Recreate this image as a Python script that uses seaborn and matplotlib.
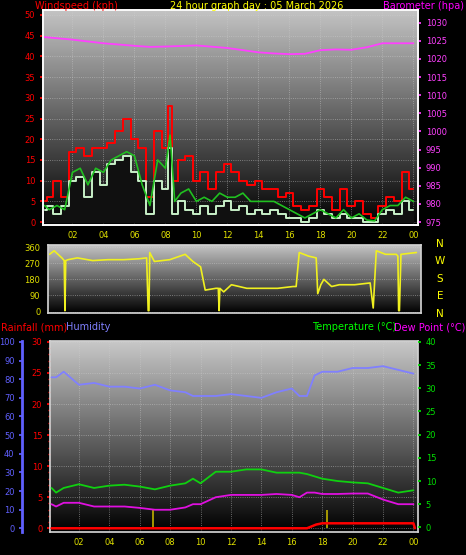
import numpy as np
import pandas as pd
import matplotlib
matplotlib.use("Agg")
import matplotlib.pyplot as plt
import seaborn as sns
from matplotlib.colors import LinearSegmentedColormap

sns.set_theme(style="dark")
plt.rcParams['font.family'] = ['DejaVu Sans']

# ---------------- data ----------------
wind_hours = [0.2,0.5,1.0,1.5,2.0,2.5,3.0,3.5,4.0,4.5,5.0,5.5,6.0,6.5,7.0,7.5,8.0,8.3,8.6,9.0,9.5,10.0,10.5,11.0,11.5,12.0,12.5,13.0,13.5,14.0,14.5,15.0,15.5,16.0,16.5,17.0,17.5,18.0,18.5,19.0,19.5,20.0,20.5,21.0,21.5,22.0,22.5,23.0,23.5,24.0]
wind_gust = [5,6,10,6,17,18,16,18,18,19,22,25,20,18,6,22,18,28,10,15,16,10,12,8,12,14,12,10,9,10,8,8,6,7,4,3,4,8,6,3,8,4,5,2,1,4,6,5,12,8]
wind_avg = [3,4,2,4,10,11,6,12,9,14,15,16,12,10,2,10,8,18,2,5,3,2,4,2,4,5,3,4,2,3,2,3,2,1,1,0,1,3,2,1,2,1,1,0,0,2,3,2,5,3]
wind_smooth = [4,3,4,3,12,13,9,13,12,15,16,17,16,9,4,15,13,21,5,7,8,5,6,5,7,6,6,7,5,5,5,5,4,3,2,1,2,3,2,1,3,1,2,0.5,0.3,3,4,4,6,5]
baro_hours = [0.2,2,4,6,7,8,10,12,14,15,16,17,18,19,20,21,22,23,24]
baro = [1026,1025.3,1024.3,1023.6,1023.3,1023.4,1023.7,1023,1021.8,1021.5,1021.3,1021.4,1022.4,1022.6,1022.5,1023.2,1024.3,1024.3,1024.3]

dir_hours = [0.2,0.5,1.0,1.15,1.2,1.25,1.4,2.0,3.0,4.0,5.0,6.0,6.5,6.6,6.65,6.7,7.0,8.0,9.0,9.5,10.0,10.3,11.0,11.15,11.2,11.25,11.5,12.0,13.0,14.0,15.0,16.0,16.2,16.4,17.0,17.5,17.6,17.8,18.0,18.5,19.0,20.0,21.0,21.2,21.4,22.0,22.7,22.8,22.85,22.9,23.0,24.0]
direction = [320,340,300,285,5,285,290,300,285,290,290,295,300,5,5,330,280,290,320,280,250,120,130,130,5,130,110,150,130,130,130,140,140,330,310,300,100,150,180,140,150,150,160,20,340,320,320,310,5,5,320,330]

th_hours = [0.2,0.5,1,2,3,4,5,6,7,8,9,9.5,10,11,12,13,14,15,16,16.5,17,17.5,18,19,20,21,22,23,24]
humidity = [81,81,84,77,78,76,76,75,77,74,73,71,71,71,72,71,70,73,75,71,71,82,84,84,86,86,87,85,83]
temperature = [8.5,7.5,8.5,9.3,8.5,9,9.2,8.8,8.2,9,9.5,10.5,9.5,12,12,12.5,12.5,11.8,11.8,11.8,11.5,11,10.5,10,9.7,9.5,8.5,7.5,8]
dewpoint = [5,4.5,5.3,5.3,4.5,4.5,4.5,4.2,3.8,3.8,4.3,5,5,6.5,7,7,7,7.2,7,6.5,7.5,7.5,7.2,7.2,7.3,7.3,6,5,5]
rain_hours = [0.2,17.0,17.3,17.6,18.0,24.0,24.1]
rain = [0,0,0.3,0.6,0.8,0.8,0]
rain_events = [6.9,18.3]

hour_ticks = [2,4,6,8,10,12,14,16,18,20,22,24]
hour_labels = ['02','04','06','08','10','12','14','16','18','20','22','00']
XL = (0.1, 24.3)

W, H = 466, 555
fig = plt.figure(figsize=(W/100, H/100), dpi=100, facecolor='black')

def ax_at(x0, y0, x1, y1):
    return fig.add_axes([x0/W, 1-y1/H, (x1-x0)/W, (y1-y0)/H])

def grad(ax, top='#c4c4c4'):
    g = np.linspace(1, 0, 256).reshape(-1, 1)
    cm = LinearSegmentedColormap.from_list('g', ['#000000', top])
    ax.imshow(g, cmap=cm, aspect='auto', extent=[*ax.get_xlim(), *ax.get_ylim()], zorder=0)

def style(ax, yticks, ycolor, xlabels=True):
    ax.set_xlim(*XL)
    ax.set_xticks(hour_ticks)
    ax.set_xticklabels(hour_labels if xlabels else [])
    ax.tick_params(axis='x', colors='#e0e000', labelsize=6, length=0, pad=4)
    ax.tick_params(axis='y', colors=ycolor, labelsize=6, length=2)
    ax.set_yticks(yticks)
    ax.grid(True, color='#d0d0d0', linestyle=':', linewidth=0.6, alpha=0.6)
    for s in ax.spines.values():
        s.set_color('#d0d0d0')
    ax.set_xlabel(''); ax.set_ylabel('')

# ---------- top: wind + barometer ----------
ax1 = ax_at(43, 10, 418, 225)
ax1.set_xlim(*XL); ax1.set_ylim(-0.7, 51.2)
grad(ax1)
sns.lineplot(x=wind_hours, y=wind_gust, ax=ax1, color='#ff0000', lw=1.4, drawstyle='steps-mid', zorder=2)
ax1.fill_between(wind_hours, wind_avg, color='#101010', step='mid', zorder=1.5)
sns.lineplot(x=wind_hours, y=wind_avg, ax=ax1, color='#c8f0c8', lw=1.4, drawstyle='steps-mid', zorder=3)
sns.lineplot(x=wind_hours, y=wind_smooth, ax=ax1, color='#20c020', lw=1.2, zorder=4)
style(ax1, list(range(0, 51, 5)), '#ff0000')
ax1b = ax1.twinx()
ax1b.set_ylim(975 - 0.7*1.142, 975 + 51.2*1.142)
sns.lineplot(x=baro_hours, y=baro, ax=ax1b, color='#ff40ff', lw=1.3)
ax1b.set_yticks(list(range(975, 1031, 5)))
ax1b.tick_params(axis='y', colors='#ff40ff', labelsize=6, length=2)
ax1b.set_ylabel('')
ax1b.grid(False)
ax1.set_xlim(*XL)
fig.text(35/W, 1-6/H, 'Windspeed (kph)', color='#ff0000', fontsize=7, va='center', ha='left')
fig.text(257/W, 1-6/H, '24 hour graph day : 05 March 2026', color='#ffff00', fontsize=7, va='center', ha='center')
fig.text(464/W, 1-6/H, 'Barometer (hpa)', color='#ff00ff', fontsize=7, va='center', ha='right')

# ---------- middle: wind direction ----------
ax2 = ax_at(48, 245, 421, 313)
ax2.set_xlim(*XL); ax2.set_ylim(-8, 372)
grad(ax2)
sns.lineplot(x=dir_hours, y=direction, ax=ax2, color='#f0f020', lw=1.2)
style(ax2, [0, 90, 180, 270, 360], '#e0e000', xlabels=False)
ax2.grid(True, axis='y', color='#d0d0d0', linestyle=':', linewidth=0.6, alpha=0.6)
ax2.grid(False, axis='x')
for lab, yy in zip(['N', 'W', 'S', 'E', 'N'], [244, 261, 279, 296, 314]):
    fig.text(440/W, 1-yy/H, lab, color='#ffff00', fontsize=7.5, ha='center', va='center')

# ---------- bottom: humidity / rain / temperature ----------
fig.text(1/W, 1-327/H, 'Rainfall (mm)', color='#ff0000', fontsize=7, va='center')
fig.text(66/W, 1-327/H, 'Humidity', color='#8080ff', fontsize=7, va='center')
fig.text(312/W, 1-327/H, 'Temperature (°C)', color='#00ff00', fontsize=7, va='center')
fig.text(465/W, 1-327/H, 'Dew Point (°C)', color='#ff00ff', fontsize=7, va='center', ha='right')

ax3 = ax_at(50, 341, 418, 532)
ax3.set_xlim(*XL); ax3.set_ylim(-0.6, 30.15)
grad(ax3, top='#c8c8c8')
for ev in rain_events:
    ax3.vlines(ev, 0, 3, color='#c0b000', lw=1.2, zorder=2)
sns.lineplot(x=rain_hours, y=rain, ax=ax3, color='#ff0000', lw=1.8, zorder=5)
style(ax3, list(range(0, 31, 5)), '#ff0000')
ax3.set_yticks(list(range(0, 31, 1)), minor=True)
ax3.tick_params(axis='y', which='minor', length=1.5, colors='#ff0000')

axh = ax3.twinx()
axh.set_ylim(-2, 100.5)
sns.lineplot(x=th_hours, y=humidity, ax=axh, color='#8080ff', lw=1.3)
axh.set_yticks(list(range(0, 101, 10)))
axh.yaxis.set_ticks_position('left'); axh.yaxis.set_label_position('left')
axh.spines['left'].set_position(('outward', 20))
axh.spines['left'].set_color('#6060ff'); axh.spines['left'].set_linewidth(2)
axh.tick_params(axis='y', colors='#6060ff', labelsize=6, length=2)
axh.set_ylabel(''); axh.grid(False)

axt = ax3.twinx()
axt.set_ylim(-1, 40.2)
sns.lineplot(x=th_hours, y=temperature, ax=axt, color='#10d010', lw=1.3)
sns.lineplot(x=th_hours, y=dewpoint, ax=axt, color='#e010e0', lw=1.3)
axt.set_yticks(list(range(0, 41, 5)))
axt.tick_params(axis='y', colors='#00e000', labelsize=6, length=2)
axt.set_ylabel(''); axt.grid(False)
for a in (axh, axt):
    for s in a.spines.values():
        s.set_visible(False)
axh.spines['left'].set_visible(True)
ax3.set_xlim(*XL)

fig.savefig('out.png', dpi=100, facecolor='black')
